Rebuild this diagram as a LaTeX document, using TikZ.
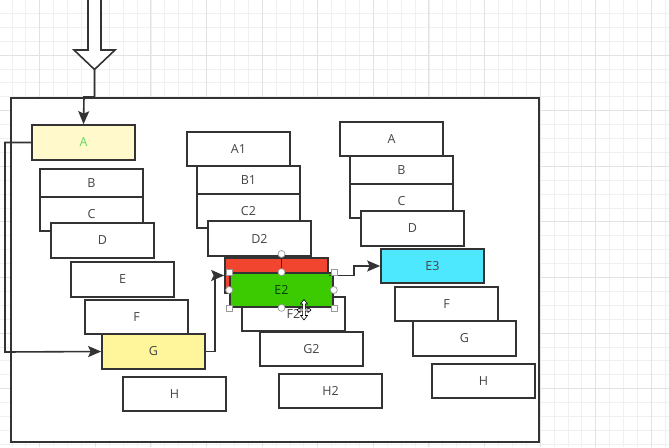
\documentclass[tikz,border=0pt]{standalone}
\usepackage{fontspec}
\setmainfont{Open Sans}
\usetikzlibrary{arrows.meta}
\definecolor{ink}{HTML}{333333}
\definecolor{txt}{HTML}{444444}
\definecolor{paleyellow}{HTML}{FFF9CB}
\definecolor{gyellow}{HTML}{FFF59A}
\definecolor{cyanbox}{HTML}{4DE8FD}
\definecolor{redbox}{HTML}{F2452F}
\definecolor{greenbox}{HTML}{3CCB00}
\definecolor{greentxt}{HTML}{66D466}
\definecolor{gridmin}{HTML}{F0F0F0}
\definecolor{gridmaj}{HTML}{E2E2E2}
\tikzset{
  bx/.style={draw=ink, line width=1.7pt, fill=white, minimum width=103pt, minimum height=34pt,
    inner sep=0pt, text=txt, font=\fontsize{12.5}{14}\selectfont},
  conn/.style={draw=ink, line width=1.6pt, -{Stealth[length=13pt,width=11pt,inset=2.5pt]}},
  gminor/.style={draw=gridmin, line width=0.8pt},
  gmajor/.style={draw=gridmaj, line width=0.9pt},
  hsq/.style={draw=gray!80, fill=white, line width=0.7pt, minimum size=6pt, inner sep=0pt},
  hci/.style={draw=gray!80, fill=white, line width=0.7pt, circle, minimum size=7pt, inner sep=0pt},
}
\begin{document}
\begin{tikzpicture}[x=1pt,y=-1pt]
\useasboundingbox (0,0) rectangle (669,447);
\fill[white] (0,0) rectangle (669,447);
% grid
\foreach \i in {0,...,47} \draw[gminor] ({11.9+13.9*\i},0) -- ++(0,447);
\foreach \i in {0,...,33} \draw[gminor] (0,{-0.6+13.9*\i}) -- ++(669,0);
\foreach \i in {0,...,11} \draw[gmajor] ({39.7+55.6*\i},0) -- ++(0,447);
\foreach \i in {0,...,7} \draw[gmajor] (0,{-0.6+55.6*\i}) -- ++(669,0);
% frame
\node[draw=ink, line width=1.9pt, fill=white, minimum width=528pt, minimum height=344pt, inner sep=0pt] (frame) at (275,270) {};
% hollow arrow
\draw[ink, line width=1.6pt, fill=white, line join=miter] (88,-3) -- (88,50) -- (74,50) -- (94.5,69.5) -- (115,50) -- (101,50) -- (101,-3);
\coordinate (tip) at (94.5,69.5);
% left column
\node[bx, fill=paleyellow, text=greentxt, minimum height=35pt] (lA) at (83.5,142.5) {A};
\node[bx, minimum height=28pt] (lB) at (91.5,183) {B};
\node[bx] (lC) at (91.5,214) {C};
\node[bx, minimum height=35pt] (lD) at (102.5,240.5) {D};
\node[bx, minimum height=35pt] (lE) at (122.5,279.5) {E};
\node[bx] (lF) at (136.5,317) {F};
\node[bx, fill=gyellow, minimum height=35pt] (lG) at (153.5,351.5) {G};
\node[bx] (lH) at (174.5,394) {H};
% middle column
\node[bx] (mA) at (238.5,149) {A1};
\node[bx, minimum height=28pt] (mB) at (248.5,180) {B1};
\node[bx] (mC) at (248.5,211) {C2};
\node[bx, minimum height=35pt] (mD) at (259.5,238.5) {D2};
\node[bx] (mF) at (293.5,314) {F2};
\node[bx] (mG) at (311.5,349) {G2};
\node[bx] (mH) at (330.5,391) {H2};
\node[bx, fill=redbox, minimum height=35pt] (mR) at (276.5,275.5) {};
\node[bx, fill=greenbox, text=green!25!black] (mE) at (281.5,290) {E2};
% right column
\node[bx] (rA) at (391.5,139) {A};
\node[bx, minimum height=28pt] (rB) at (401.5,170) {B};
\node[bx] (rC) at (401.5,201) {C};
\node[bx, minimum height=35pt] (rD) at (412.5,228.5) {D};
\node[bx, fill=cyanbox] (rE) at (432.5,266) {E3};
\node[bx] (rF) at (446.5,304) {F};
\node[bx, minimum height=35pt] (rG) at (464.5,338.5) {G};
\node[bx] (rH) at (483.5,381) {H};
% connectors
\draw[conn] (tip) |- (84,97) -- (lA.north);
\draw[conn] (lA.west) -| (5,352) -- (lG.west);
\draw[conn] (lG.east) -- (215,351.5) |- (mR.west);
\draw[conn] (mR.east) -- (354,275.5) |- (rE.west);
% selection handles
\draw[red!60!black, line width=0.7pt] (281.5,258) -- (281.5,273);
\node[hci] (rot) at (281.5,254) {};
\node[hsq] (h1) at (mE.north west) {};
\node[hsq] (h2) at (mE.north east) {};
\node[hsq] (h3) at (mE.south west) {};
\node[hsq] (h4) at (mE.south east) {};
\node[hci] (h5) at (mE.north) {};
\node[hci] (h6) at (mE.south) {};
\node[hci] (h7) at (mE.west) {};
\node[hci] (h8) at (mE.east) {};
% move cursor
\draw[black, fill=white, line width=0.6pt, line join=miter]
  (297,310) -- (300,307.5) -- (300,309) -- (302.6,309) -- (302.6,304) -- (300.5,304) -- (304,299.5)
  -- (307.5,304) -- (305.4,304) -- (305.4,309) -- (308,309) -- (308,307.5) -- (311,310)
  -- (308,312.5) -- (308,311) -- (305.4,311) -- (305.4,315.5) -- (307.5,315.5) -- (304,320)
  -- (300.5,315.5) -- (302.6,315.5) -- (302.6,311) -- (300,311) -- (300,312.5) -- cycle;
\end{tikzpicture}
\end{document}
